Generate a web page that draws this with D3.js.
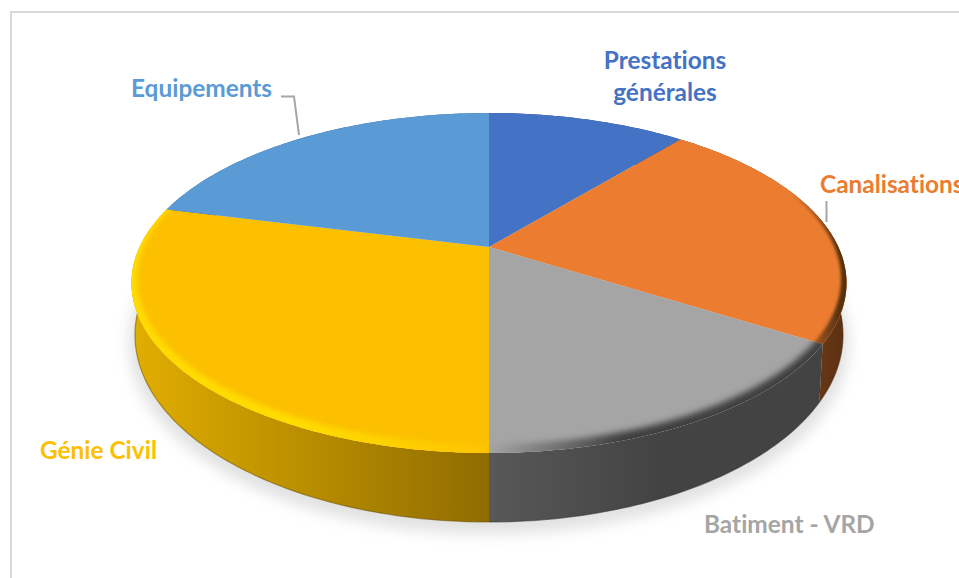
<!DOCTYPE html>
<html>
<head>
<meta charset="utf-8">
<script src="https://cdn.jsdelivr.net/npm/d3@7"></script>
<style>
  html, body { margin: 0; padding: 0; background: #fff; overflow: hidden; }
  text { font-family: Lato, "Open Sans", sans-serif; font-weight: 700; font-size: 24.4px; font-variant-ligatures: none; }
</style>
</head>
<body>
<svg id="chart" width="959" height="578"></svg>
<script>
// Share of each work package (percent)
const categories = ["Prestations générales", "Canalisations", "Batiment - VRD", "Génie Civil", "Equipements"];
const values = [11, 22.9, 16.1, 28.9, 21.1];
const faceColors = ["#4472c4", "#eb7c30", "#a5a5a5", "#fcc000", "#5b9bd5"];

// Side wall shading, left to right, for each slice
const wallStops = [
  ["#2a4478", "#2a4478"],
  ["#693815", "#5c3012"],
  ["#585858", "#434343"],
  ["#e0ad00", "#8f6c00"],
  ["#37608a", "#37608a"]
];
const wallRange = [[489, 680], [815, 846], [489, 660], [135, 489], [170, 489]];
const wallEdge = [null, "#4a270e", "#333333", "#6a5000", null];

// Bevel tint along the rim of the slices that face the viewer
const rimStops = [null, ["#eb7c30", "#55300f"], ["#a5a5a5", "#404040"], ["#ffdc00", "#fdc400"], null];
const rimRange = [null, [790, 840], [489, 620], [300, 489], null];
const rimBlur = [0, 1.5, 3, 2.4, 0];

const svg = d3.select("#chart");
const defs = svg.append("defs");

const tilt = 0.2118;               // perspective strength of the disc
const cx = 489;
const topDisc = { a: 357.5, yc: 283, b: 170 };
const innerDisc = { a: 352, yc: 279, b: 165 };
const baseDisc = { a: 354, yc: 335, b: 187 };

// Map an angle (clockwise from 12 o'clock) or disc radius to the screen under perspective
function project(disc, angle, r = 1) {
  const u = r * Math.sin(angle), v = -r * Math.cos(angle);
  const k = 1 - tilt * v;
  const A = disc.a * Math.sqrt(1 - tilt * tilt);
  const B = disc.b * (1 - tilt * tilt);
  const y0 = disc.yc - disc.b * tilt;
  return [cx + A * u / k, y0 + B * v / k];
}

const line = d3.line();
const samples = (a0, a1) => {
  const n = Math.max(2, Math.ceil((a1 - a0) * 60));
  return d3.range(n + 1).map(i => a0 + (a1 - a0) * i / n);
};
const FULL = 2 * Math.PI;

const arcs = d3.pie().sort(null).value(d => d)(values);

const facePath = d => line([
  project(topDisc, 0, 0),
  ...samples(d.startAngle, d.endAngle).map(t => project(topDisc, t))
]) + "Z";

const wallPath = d => {
  const ts = samples(d.startAngle, d.endAngle);
  return line([
    ...ts.map(t => project(topDisc, t)),
    ...ts.slice().reverse().map(t => project(baseDisc, t))
  ]) + "Z";
};

const baseEdgePath = d => line(samples(d.startAngle, d.endAngle).map(t => project(baseDisc, t)));
const discPath = disc => line(samples(0, FULL).map(t => project(disc, t))) + "Z";

// Filters and gradients
const blur = (id, s) => defs.append("filter").attr("id", id)
  .attr("x", "-20%").attr("y", "-20%").attr("width", "140%").attr("height", "140%")
  .append("feGaussianBlur").attr("stdDeviation", s);
blur("soft", 7);
arcs.forEach((d, i) => { if (rimBlur[i]) blur("rimBlur" + i, rimBlur[i]); });

const gradient = (id, range, stops) => {
  const g = defs.append("linearGradient").attr("id", id)
    .attr("gradientUnits", "userSpaceOnUse")
    .attr("x1", range[0]).attr("x2", range[1]).attr("y1", 0).attr("y2", 0);
  g.append("stop").attr("offset", 0).attr("stop-color", stops[0]);
  g.append("stop").attr("offset", 1).attr("stop-color", stops[1]);
};
arcs.forEach((d, i) => {
  gradient("wall" + i, wallRange[i], wallStops[i]);
  if (rimStops[i]) gradient("rim" + i, rimRange[i], rimStops[i]);
  defs.append("clipPath").attr("id", "faceClip" + i).append("path").attr("d", facePath(d));
});

// Chart frame
svg.append("path")
  .attr("d", "M11,578V12H959")
  .attr("fill", "none").attr("stroke", "#d9d9d9").attr("stroke-width", 2);

// Ground shadow
svg.append("path")
  .attr("d", discPath({ a: 360, yc: 343, b: 191 }))
  .attr("fill", "#c4c4c4").attr("opacity", 0.5).attr("filter", "url(#soft)");

// Side walls, then the top face hides the rear part of them
svg.append("g").selectAll("path").data(arcs).join("path")
  .attr("d", wallPath)
  .attr("fill", (d, i) => `url(#wall${i})`);

// Thin dark line where the wall meets the ground
svg.append("g").selectAll("path").data(arcs.filter((d, i) => wallEdge[i])).join("path")
  .attr("d", baseEdgePath)
  .attr("fill", "none")
  .attr("stroke", d => wallEdge[d.index])
  .attr("stroke-opacity", 0.55)
  .attr("stroke-width", 1.2);

svg.append("g").selectAll("path").data(arcs).join("path")
  .attr("d", facePath)
  .attr("fill", (d, i) => faceColors[i]);

// Bevel ring, kept inside each slice
arcs.forEach((d, i) => {
  if (!rimStops[i]) return;
  svg.append("g").attr("clip-path", `url(#faceClip${i})`)
    .append("path")
    .attr("d", discPath({ a: 380, yc: 292, b: 190 }) + discPath(innerDisc))
    .attr("fill-rule", "evenodd")
    .attr("fill", `url(#rim${i})`)
    .attr("filter", `url(#rimBlur${i})`);
});

// Leader lines
svg.append("path").attr("d", "M281,96.500H294L299,135")
  .attr("fill", "none").attr("stroke", "#a6a6a6").attr("stroke-width", 2);
svg.append("path").attr("d", "M826.500,201V222")
  .attr("fill", "none").attr("stroke", "#a6a6a6").attr("stroke-width", 2);

// Category labels
const label = (lines, i, x, y, anchor) => {
  lines.forEach((s, k) => {
    svg.append("text").attr("x", x).attr("y", y + k * 32)
      .attr("text-anchor", anchor).attr("fill", faceColors[i]).text(s);
  });
};
label(["Prestations", "générales"], 0, 665, 69, "middle");
label([categories[1]], 1, 820, 193, "start");
label([categories[2]], 2, 704, 533, "start");
label([categories[3]], 3, 40, 459, "start");
label([categories[4]], 4, 131, 97, "start");
</script>
</body>
</html>
